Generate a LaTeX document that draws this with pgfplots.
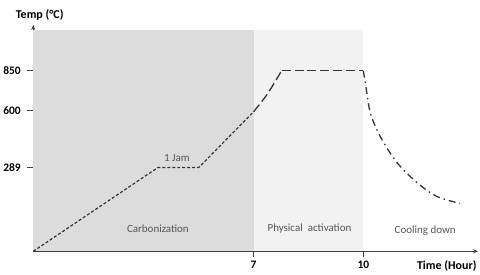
\documentclass[border=0pt]{standalone}
\usepackage{pgfplots}
\pgfplotsset{compat=1.18}
\usetikzlibrary{arrows.meta}
\usepackage{fontspec}
\setmainfont{Carlito}
\definecolor{axgray}{HTML}{404040}
\definecolor{darkbg}{HTML}{DCDCDC}
\definecolor{lightbg}{HTML}{F2F2F2}
\definecolor{txtgray}{HTML}{555555}
\definecolor{curve}{HTML}{333333}
\begin{document}
\begin{tikzpicture}
\begin{axis}[
  scale only axis,
  width=446pt, height=227pt,
  xmin=32, xmax=478, ymin=21, ymax=248,
  axis lines=left,
  axis line style={axgray, line width=1.4pt, -{Stealth[length=5pt,width=4pt]}},
  clip=false,
  xtick={253,363}, xticklabels={7,10},
  ytick={105,162,202}, yticklabels={289,600,850},
  tick align=outside,
  major tick length=6pt,
  tick style={axgray, line width=1pt},
  ticklabel style={font=\bfseries\fontsize{11.5}{13}\selectfont, text=black},
  xticklabel style={yshift=0pt},
  yticklabel style={xshift=-3pt},
]
% backgrounds
\addplot[draw=none, fill=darkbg] coordinates {(32,21) (253,21) (253,243) (32,243)} -- cycle;
\addplot[draw=none, fill=lightbg] coordinates {(253,21) (363,21) (363,243) (253,243)} -- cycle;
% segment 1
\addplot[curve, line width=1.2pt, dash pattern=on 3pt off 2pt] coordinates {(32,21) (157,105) (198,105) (253,161)};
% segment 2
\addplot[curve, line width=1.3pt, dash pattern=on 9pt off 4pt, smooth, tension=0.4] coordinates {(253,161) (267,179) (281,202)};
\addplot[curve, line width=1.3pt, dash pattern=on 9pt off 4pt] coordinates {(281,202) (363,202)};
% segment 3
\addplot[curve, line width=1.3pt, smooth, dash pattern=on 7pt off 4pt on 1.5pt off 4pt] coordinates {(363,202) (365,190) (370,160) (380,136) (396.7,110) (416.7,90) (436.7,76) (460,69)};
% texts
\node[txtgray, font=\fontsize{11}{13}\selectfont] at (axis cs:176,115) {1 Jam};
\node[txtgray, font=\fontsize{11}{13}\selectfont] at (axis cs:157,44) {Carbonization};
\node[txtgray, font=\fontsize{11}{13}\selectfont] at (axis cs:309,44) {Physical\ \ activation};
\node[txtgray, font=\fontsize{11}{13}\selectfont] at (axis cs:425,42) {Cooling down};
\node[font=\bfseries\fontsize{12}{14}\selectfont, anchor=west] at (axis cs:11,258) {Temp (°C)};
\node[font=\bfseries\fontsize{12}{14}\selectfont, anchor=east] at (axis cs:480,6) {Time (Hour)};
\draw[draw=none] (axis cs:0,0) rectangle (axis cs:480,273);
\end{axis}
\end{tikzpicture}
\end{document}
